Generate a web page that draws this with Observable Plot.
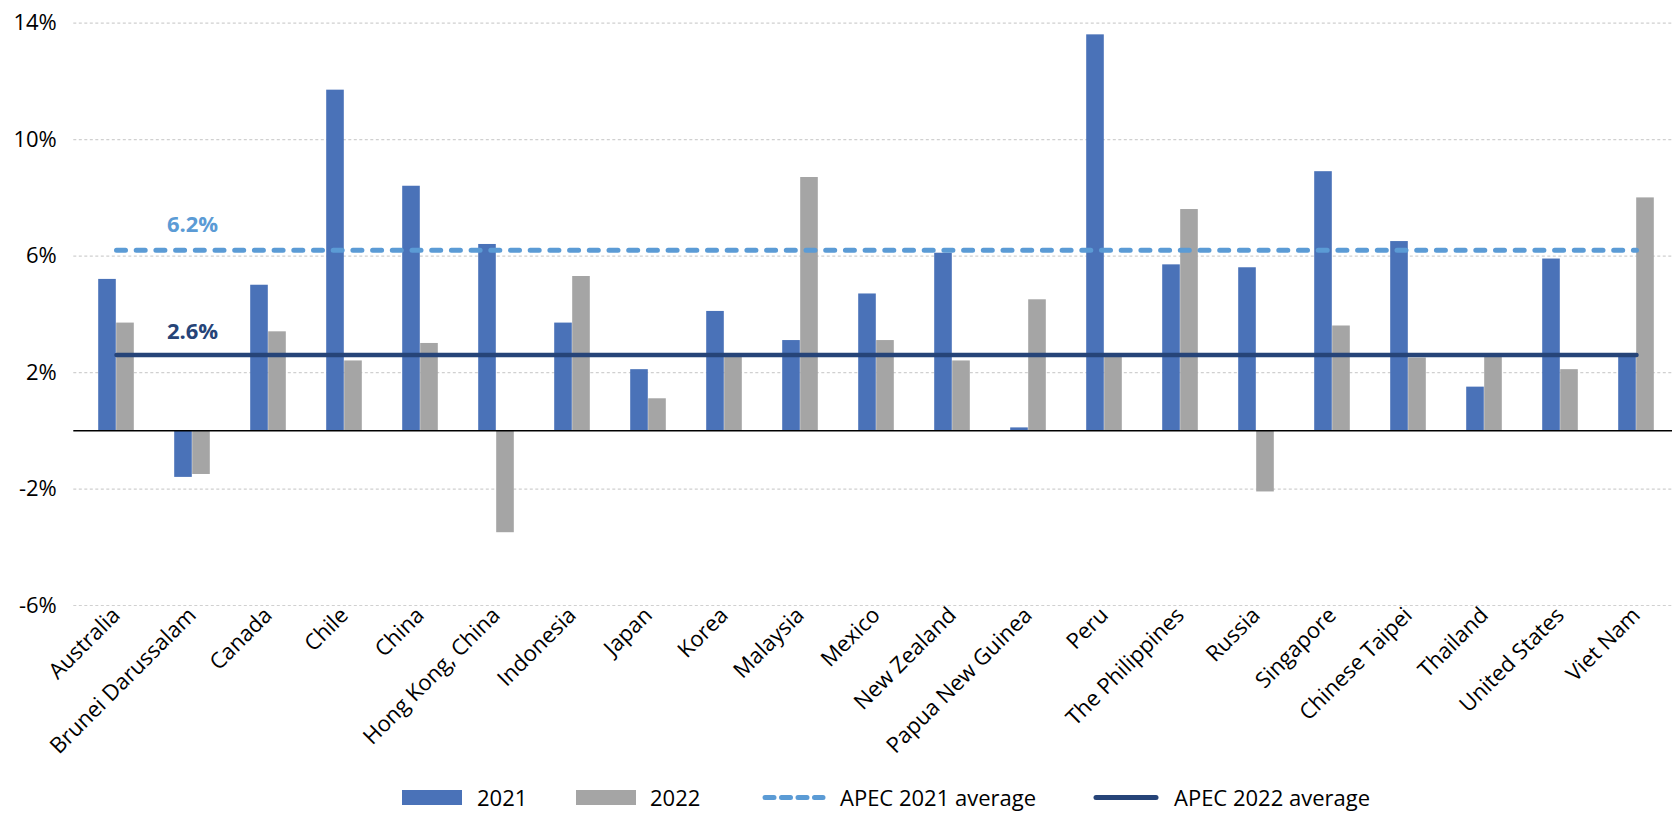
<!DOCTYPE html>
<html>
<head>
<meta charset="utf-8">
<script src="https://cdn.jsdelivr.net/npm/d3@7"></script>
<script src="https://cdn.jsdelivr.net/npm/@observablehq/plot@0.6"></script>
<style>
  html, body { margin: 0; padding: 0; background: #fff; overflow: hidden; }
  #chart svg { display: block; }
  #legend { position: relative; height: 31px; font-family: "Open Sans", sans-serif; font-size: 22px; color: #000; }
  #legend .item { position: absolute; top: 0; height: 31px; display: flex; align-items: center; }
  #legend .txt { position: absolute; top: 0; height: 31px; line-height: 31px; white-space: nowrap; }
</style>
</head>
<body>
<div id="chart"></div>
<div id="legend"></div>
<script>
const countries = ["Australia", "Brunei Darussalam", "Canada", "Chile", "China", "Hong Kong, China", "Indonesia", "Japan", "Korea", "Malaysia", "Mexico", "New Zealand", "Papua New Guinea", "Peru", "The Philippines", "Russia", "Singapore", "Chinese Taipei", "Thailand", "United States", "Viet Nam"];
const growth2021 = [5.2, -1.6, 5.0, 11.7, 8.4, 6.4, 3.7, 2.1, 4.1, 3.1, 4.7, 6.1, 0.1, 13.6, 5.7, 5.6, 8.9, 6.5, 1.5, 5.9, 2.6];
const growth2022 = [3.7, -1.5, 3.4, 2.4, 3.0, -3.5, 5.3, 1.1, 2.6, 8.7, 3.1, 2.4, 4.5, 2.6, 7.6, -2.1, 3.6, 2.5, 2.6, 2.1, 8.0];
const apecAvg2021 = 6.2;
const apecAvg2022 = 2.6;
const yTicks = [-6, -2, 2, 6, 10, 14];
const seriesNames = ["2021", "2022", "APEC 2021 average", "APEC 2022 average"];

const C2021 = "#4a72b8", C2022 = "#a5a5a5", CAVG21 = "#5b9bd5", CAVG22 = "#264478";

const rows21 = countries.map((c, i) => ({country: c, value: growth2021[i]}));
const rows22 = countries.map((c, i) => ({country: c, value: growth2022[i]}));
const avg21 = countries.map(c => ({country: c, value: apecAvg2021}));
const avg22 = countries.map(c => ({country: c, value: apecAvg2022}));

const chart = Plot.plot({
  width: 1672,
  height: 782,
  marginLeft: 73.3,
  marginRight: -6,
  marginTop: 22.7,
  marginBottom: 177,
  style: {fontFamily: "Open Sans", fontSize: "22px", color: "#000", background: "#fff", overflow: "hidden"},
  x: {domain: countries, padding: 0, tickRotate: -45, tickSize: 0, tickPadding: 6, label: null},
  y: {domain: [-6, 14], ticks: yTicks, tickFormat: d => d + "%", tickSize: 0, tickPadding: 17, label: null},
  marks: [
    Plot.ruleY(yTicks, {stroke: "#d0d0d0", strokeWidth: 1.2, strokeDasharray: "3,2.5"}),
    Plot.barY(rows21, {x: "country", y: "value", fill: C2021, insetLeft: 20.2, insetRight: 38.2}),
    Plot.barY(rows22, {x: "country", y: "value", fill: C2022, insetLeft: 38.2, insetRight: 20.2}),
    Plot.ruleY([0], {stroke: "#000", strokeWidth: 1.6}),
    Plot.lineY(avg22, {x: "country", y: "value", stroke: CAVG22, strokeWidth: 4.5, strokeLinecap: "round"}),
    Plot.lineY(avg21, {x: "country", y: "value", stroke: CAVG21, strokeWidth: 5, strokeLinecap: "round", strokeDasharray: "9,10.7"}),
    Plot.text([apecAvg2021], {x: () => countries[1], y: d => d, text: d => d.toFixed(1) + "%", fill: CAVG21, fontWeight: "bold", fontSize: 22, dy: -25}),
    Plot.text([apecAvg2022], {x: () => countries[1], y: d => d, text: d => d.toFixed(1) + "%", fill: CAVG22, fontWeight: "bold", fontSize: 22, dy: -23})
  ]
});
document.getElementById("chart").appendChild(chart);

// legend
const legend = document.getElementById("legend");
const items = [
  {name: seriesNames[0], kind: "rect", color: C2021, left: 402, textLeft: 477},
  {name: seriesNames[1], kind: "rect", color: C2022, left: 576, textLeft: 650},
  {name: seriesNames[2], kind: "dash", color: CAVG21, left: 762, textLeft: 840},
  {name: seriesNames[3], kind: "line", color: CAVG22, left: 1093, textLeft: 1174}
];
for (const it of items) {
  const sw = document.createElement("div");
  sw.className = "item";
  sw.style.left = it.left + "px";
  let svg;
  if (it.kind === "rect") {
    svg = `<svg width="60" height="31"><rect x="0" y="8" width="60" height="15" fill="${it.color}"/></svg>`;
  } else if (it.kind === "dash") {
    svg = `<svg width="64" height="31"><line x1="3" x2="61" y1="15.5" y2="15.5" stroke="${it.color}" stroke-width="5" stroke-linecap="round" stroke-dasharray="9,7.5"/></svg>`;
  } else {
    svg = `<svg width="66" height="31"><line x1="3" x2="63" y1="15.5" y2="15.5" stroke="${it.color}" stroke-width="5" stroke-linecap="round"/></svg>`;
  }
  sw.innerHTML = svg;
  legend.appendChild(sw);
  const t = document.createElement("div");
  t.className = "txt";
  t.style.left = it.textLeft + "px";
  t.textContent = it.name;
  legend.appendChild(t);
}
</script>
</body>
</html>
